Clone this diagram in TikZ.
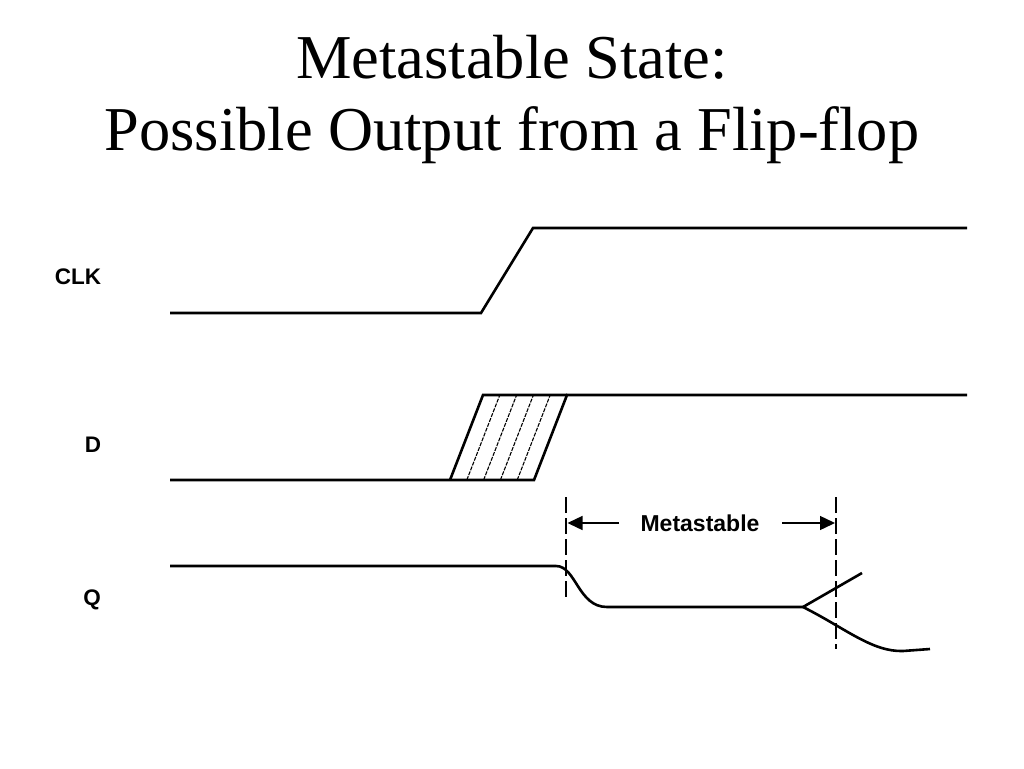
\documentclass[tikz,border=0pt]{standalone}
\usepackage{fontspec}
\setmainfont{Liberation Serif}
\newfontfamily\lblfont{Liberation Sans}
\usetikzlibrary{arrows.meta}
\begin{document}
\begin{tikzpicture}[x=1pt,y=-1pt,
  sig/.style={line width=2.6pt,line join=miter},
  hatchline/.style={line width=1.1pt,dash pattern=on 4pt off 1.2pt},
  marker/.style={line width=1.4pt,dash pattern=on 16pt off 5pt},
  dimarrow/.style={line width=1.4pt,-{Triangle[length=15pt,width=14pt]}},
  siglabel/.style={font=\lblfont\bfseries\fontsize{22.5}{24}\selectfont,inner sep=0pt},
  title/.style={font=\fontsize{62.4}{72}\selectfont,inner sep=0pt,align=center}]
\useasboundingbox (0,0) rectangle (1024,768);
% title
\node[title,anchor=base] (t1) at (512,78) {Metastable State:};
\node[title,anchor=base] (t2) at (512,150) {Possible Output from a Flip-flop};
% labels
\node[siglabel] (clk) at (78,277) {CLK};
\node[siglabel] (d) at (93,445) {D};
\node[siglabel] (q) at (92,600) {Q};
% CLK waveform
\draw[sig] (170,313) -- (481,313) -- (533,228) -- (967,228);
% D waveform
\draw[sig] (170,480) -- (534,480) -- (567,395) -- (967,395);
\draw[sig] (450,480) -- (483,395) -- (567,395);
\foreach \i in {1,2,3,4}
  \draw[hatchline] (450+16.8*\i,480) -- (483+16.8*\i,395);
% Q waveform
\draw[sig] (170,566) -- (556,566) .. controls (576,566) and (578,607) .. (607,607) -- (803,607);
\draw[sig] (803,607) -- (862,573);
\draw[sig] (803,607) .. controls (845,628) and (872,652) .. (903,651) -- (930,649);
% markers
\coordinate (m1a) at (566,497);
\coordinate (m1b) at (566,600);
\coordinate (m2a) at (836,497);
\coordinate (m2b) at (836,649);
\draw[marker] (m1a) -- (m1b);
\draw[marker] (m2a) -- (m2b);
\node[siglabel,font=\lblfont\bfseries\fontsize{23}{24}\selectfont] (ms) at (700,523) {Metastable};
\coordinate (al) at (567.5,523);
\coordinate (ar) at (835,523);
\draw[dimarrow] (619,523) -- (al);
\draw[dimarrow] (782,523) -- (ar);
\end{tikzpicture}
\end{document}
